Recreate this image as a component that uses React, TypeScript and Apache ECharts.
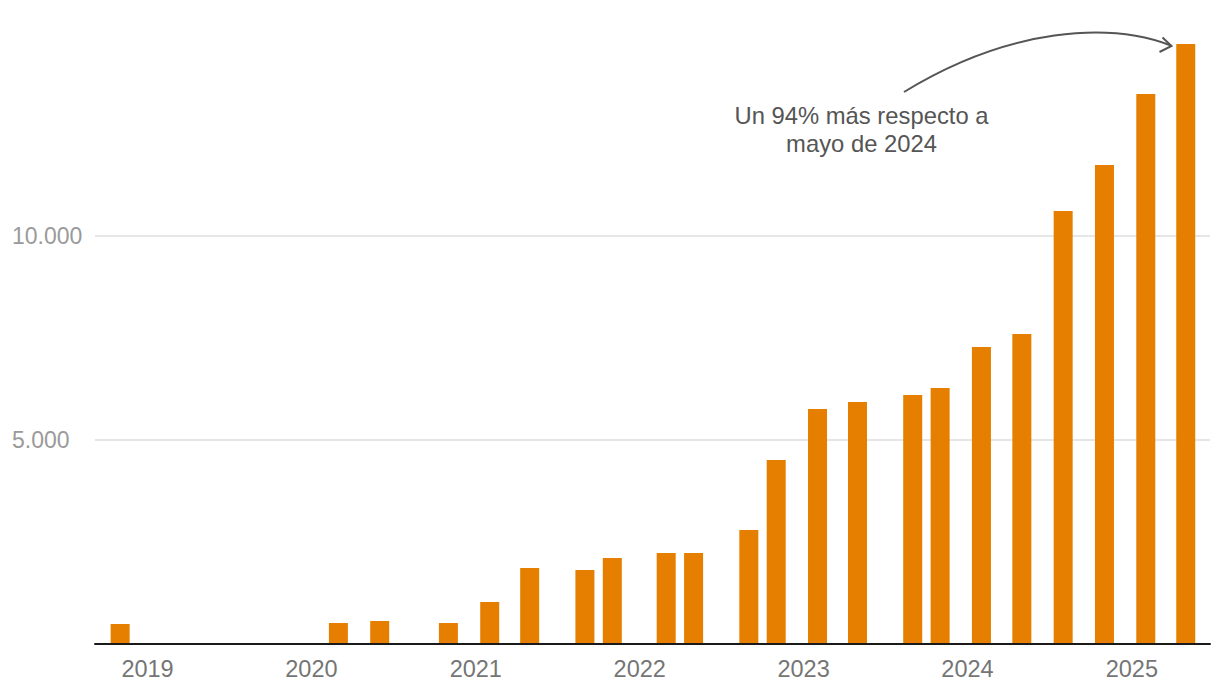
import React, { useEffect, useRef } from "react";
import * as echarts from "echarts";

const months = [
  "2018-11", "2020-03", "2020-06", "2020-11", "2021-02", "2021-05", "2021-09",
  "2021-11", "2022-03", "2022-05", "2022-09", "2022-11", "2023-02", "2023-05",
  "2023-09", "2023-11", "2024-02", "2024-05", "2024-08", "2024-11", "2025-02",
  "2025-05",
];
const values = [
  490, 514, 563, 514, 1029, 1861, 1812, 2106, 2229, 2229, 2792, 4506, 5756,
  5927, 6098, 6270, 7274, 7592, 10605, 11731, 13470, 14695,
];
const yearTicks = [2019, 2020, 2021, 2022, 2023, 2024, 2025];
const annotationText = "Un 94% más respecto a\nmayo de 2024";

const FONT = "'Liberation Sans', Arial, Helvetica, sans-serif";

function toTime(ym: string): number {
  const [y, m] = ym.split("-").map(Number);
  return new Date(y, m - 1, 1).getTime();
}

function fmtThousands(v: number): string {
  return String(v).replace(/\B(?=(\d{3})+(?!\d))/g, ".");
}

export default function App() {
  const ref = useRef<HTMLDivElement>(null);

  useEffect(() => {
    if (!ref.current) return;
    const chart = echarts.init(ref.current, null, { renderer: "svg" });
    const option: any = {
      animation: false,
      backgroundColor: "#ffffff",
      grid: { left: 95, right: 10, top: 31.5, bottom: 52, containLabel: false },
      xAxis: {
        type: "value",
        min: new Date(2018, 8, 6).getTime(),
        max: new Date(2025, 5, 24).getTime(),
        z: 10,
        axisLine: { show: true, lineStyle: { color: "#1a1a1a", width: 2 } },
        axisTick: { show: false },
        splitLine: { show: false },
        axisLabel: {
          customValues: yearTicks.map((y) => new Date(y, 0, 1).getTime()),
          formatter: (v: number) => String(new Date(v).getFullYear()),
          color: "#757575",
          fontSize: 23.5,
          fontFamily: FONT,
          margin: 13,
        },
      },
      yAxis: {
        type: "value",
        min: 0,
        max: 15000,
        interval: 5000,
        axisLine: { show: false },
        axisTick: { show: false },
        axisLabel: {
          formatter: (v: number) => (v === 0 || v === 15000 ? "" : fmtThousands(v)),
          color: "#9a9a9a",
          fontSize: 23,
          fontFamily: FONT,
          align: "left",
          margin: 83,
        },
        splitLine: {
          show: true,
          showMinLine: false,
          showMaxLine: false,
          lineStyle: { color: "#e6e6e6", width: 2 },
        },
      },
      series: [
        {
          type: "bar",
          barWidth: 19,
          itemStyle: { color: "#e67e00" },
          data: months.map((m, i) => [toTime(m), values[i]]),
        },
      ],
      graphic: [
        {
          type: "bezierCurve",
          shape: {
            x1: 904, y1: 92,
            cpx1: 1010, cpy1: 27,
            cpx2: 1110, cpy2: 22,
            x2: 1171, y2: 45.5,
          },
          style: { stroke: "#555555", lineWidth: 2, fill: null },
          z: 20,
        },
        {
          type: "polyline",
          shape: { points: [[1162.5, 37.5], [1171.5, 46], [1159.5, 52]] },
          style: { stroke: "#555555", lineWidth: 2, fill: null },
          z: 20,
        },
        {
          type: "text",
          x: 861.5,
          y: 101,
          z: 20,
          style: {
            text: annotationText,
            textAlign: "center",
            textVerticalAlign: "top",
            fontSize: 23.8,
            lineHeight: 28,
            fontFamily: FONT,
            fill: "#555555",
          },
        },
      ],
    };
    chart.setOption(option);
    return () => chart.dispose();
  }, []);

  return (
    <div
      ref={ref}
      style={{ position: "absolute", left: 0, top: 0, width: 1220, height: 696 }}
    />
  );
}
